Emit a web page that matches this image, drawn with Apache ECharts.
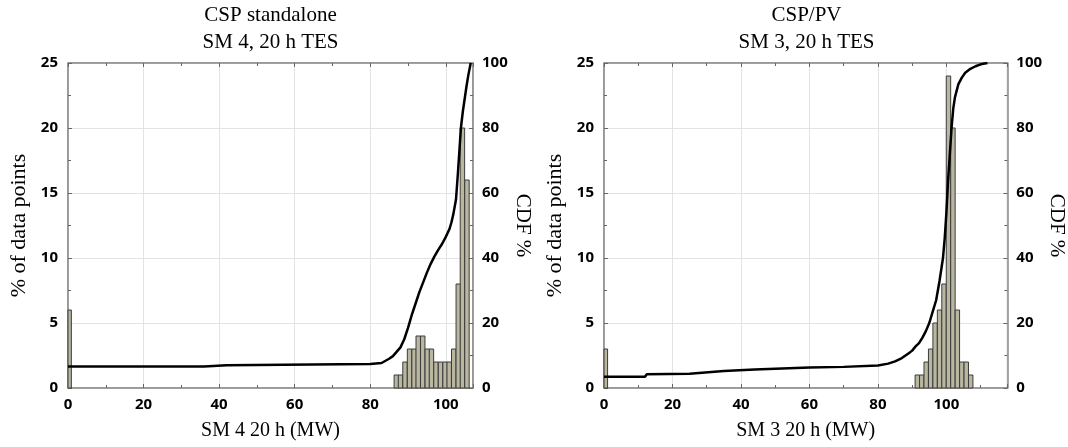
<!DOCTYPE html>
<html><head><meta charset="utf-8">
<script src="https://cdn.jsdelivr.net/npm/echarts@6/dist/echarts.min.js"></script>
<style>html,body{margin:0;padding:0;background:#fff}#c{width:1068px;height:447px}</style>
</head><body><div id="c"></div>
<script>
// ---- data ----
const leftTitle = ['CSP standalone', 'SM 4, 20 h TES'];
const rightTitle = ['CSP/PV', 'SM 3, 20 h TES'];
const leftXName = 'SM 4 20 h (MW)';
const rightXName = 'SM 3 20 h (MW)';
const yName = '% of data points';
const y2Name = 'CDF %';

const leftBinWidth = 1.17;
const leftBinCenters = [0.3, 86.9, 88.0, 89.2, 90.4, 91.6, 92.7, 93.9, 95.1, 96.2, 97.4, 98.6, 99.8, 100.9, 102.1, 103.3, 104.4, 105.6];
const leftCounts     = [6,   1,    1,    2,    3,    3,    4,    4,    3,    3,    2,    2,    2,    2,    3,     8,     20,    16];
const leftCdfX = [0, 36, 36.5, 42, 42.5, 80, 83, 85, 86, 88, 89, 90, 91, 92, 93, 94, 95, 96, 97, 98, 99, 100, 101, 101.5, 102, 102.7, 103.2, 103.6, 104, 104.5, 105, 105.5, 106, 106.6];
const leftCdfY = [6.6, 6.6, 7.0, 7.0, 7.3, 7.4, 7.7, 9, 9.8, 12.5, 15, 18.5, 22.5, 26, 29.5, 32.5, 35.5, 38.2, 40.5, 42.5, 44.3, 46.5, 49, 51, 53.5, 58, 66, 73, 80, 85, 89, 93, 96.5, 100];

const rightBinWidth = 1.29;
const rightBinCenters = [0.4, 91.5, 92.8, 94.1, 95.4, 96.7, 98.0, 99.3, 100.6, 101.9, 103.2, 104.5, 105.8, 107.1];
const rightCounts     = [3,   1,    1,    2,    3,    5,    6,    8,    24,    20,    6,     2,     2,     1];
const rightCdfX = [0, 12, 12.5, 25, 25.5, 35, 35.5, 44, 44.5, 60, 70, 80, 83, 85, 87, 89, 90, 91, 92, 93, 94, 95, 96, 97, 98, 99, 99.5, 100, 100.5, 101, 101.5, 102, 102.5, 103.5, 104.5, 105.5, 107, 108.5, 110, 112];
const rightCdfY = [3.5, 3.5, 4.2, 4.4, 5.0, 5.2, 5.6, 5.7, 6.0, 6.3, 6.5, 6.9, 7.5, 8.2, 9.2, 10.7, 11.5, 12.8, 13.8, 15.5, 17.5, 20, 23.5, 27, 33, 40, 46, 54, 64, 72, 80, 86, 89.5, 93.5, 95.5, 97, 98.2, 99, 99.6, 100];

const xTickValues = [0, 20, 40, 60, 80, 100];
const yTickValues = [0, 5, 10, 15, 20, 25];
const y2TickValues = [0, 20, 40, 60, 80, 100];

// ---- chart ----
const chart = echarts.init(document.getElementById('c'));
const FRAME = '#8a8a8a';
const labelFont = {fontFamily: 'Noto Sans', fontWeight: 'bold', fontSize: 15, color: '#000'};
const serif = 'Liberation Serif';

const grids = [
  {left: 68, right: 1068 - 473, top: 63, bottom: 447 - 388},
  {left: 604, right: 1068 - 1009, top: 63, bottom: 447 - 388}
];
const xMax = [107.2, 117.8];

function renderBar(params, api) {
  const x = api.value(0), y = api.value(1), w = api.value(2);
  const p0 = api.coord([x - w / 2, y]);
  const p1 = api.coord([x + w / 2, 0]);
  const rect = echarts.graphic.clipRectByRect(
    {x: p0[0], y: p0[1], width: p1[0] - p0[0], height: p1[1] - p0[1]},
    {x: params.coordSys.x, y: params.coordSys.y, width: params.coordSys.width, height: params.coordSys.height}
  );
  return rect && {type: 'rect', shape: rect, style: {fill: '#b9b7a0', stroke: '#3c3c3c', lineWidth: 1}};
}

const xAxes = [], yAxes = [], series = [];
[0, 1].forEach(i => {
  xAxes.push({
    type: 'value', gridIndex: i, min: 0, max: xMax[i], interval: 20,
    axisLine: {show: true, onZero: false, lineStyle: {color: FRAME, width: 1.5}},
    axisTick: {show: true, inside: true, length: 4, lineStyle: {color: '#666'}},
    minorTick: {show: true, splitNumber: 2, length: 3, lineStyle: {color: '#666'}},
    axisLabel: {...labelFont, margin: 9, showMaxLabel: false,
      formatter: v => xTickValues.includes(v) ? String(v) : ''},
    splitLine: {show: true, lineStyle: {color: '#e3e3e3', width: 1}},
    name: i === 0 ? leftXName : rightXName, nameLocation: 'middle', nameGap: 33,
    nameTextStyle: {fontFamily: serif, fontSize: 20, color: '#000'}
  });
  xAxes.push({
    type: 'value', gridIndex: i, position: 'top', min: 0, max: xMax[i], interval: 20,
    axisLine: {show: true, onZero: false, lineStyle: {color: FRAME, width: 1.5}},
    axisTick: {show: true, inside: true, length: 4, lineStyle: {color: '#666'}},
    minorTick: {show: true, splitNumber: 2, length: 3, lineStyle: {color: '#666'}},
    axisLabel: {show: false}, splitLine: {show: false}
  });
  yAxes.push({
    type: 'value', gridIndex: i, min: 0, max: 25, interval: 5, position: 'left',
    axisLine: {show: true, onZero: false, lineStyle: {color: FRAME, width: 1.5}},
    axisTick: {show: true, inside: true, length: 4, lineStyle: {color: '#666'}},
    minorTick: {show: true, splitNumber: 2, length: 3, lineStyle: {color: '#666'}},
    axisLabel: {...labelFont, margin: 10, formatter: v => yTickValues.includes(v) ? String(v) : ''},
    splitLine: {show: true, lineStyle: {color: '#e3e3e3', width: 1}},
    name: yName, nameLocation: 'middle', nameGap: 38,
    nameTextStyle: {fontFamily: serif, fontSize: 22, color: '#000'}
  });
  yAxes.push({
    type: 'value', gridIndex: i, min: 0, max: 100, interval: 20, position: 'right',
    axisLine: {show: true, onZero: false, lineStyle: {color: FRAME, width: 1.5}},
    axisTick: {show: true, inside: true, length: 4, lineStyle: {color: '#666'}},
    minorTick: {show: true, splitNumber: 2, length: 3, lineStyle: {color: '#666'}},
    axisLabel: {...labelFont, margin: 9, formatter: v => y2TickValues.includes(v) ? String(v) : ''},
    splitLine: {show: false},
    name: y2Name, nameLocation: 'middle', nameGap: 31, nameRotate: -90,
    nameTextStyle: {fontFamily: serif, fontSize: 21, color: '#000'}
  });
  const centers = i === 0 ? leftBinCenters : rightBinCenters;
  const counts = i === 0 ? leftCounts : rightCounts;
  const w = i === 0 ? leftBinWidth : rightBinWidth;
  series.push({
    type: 'custom', xAxisIndex: i * 2, yAxisIndex: i * 2, renderItem: renderBar,
    data: centers.map((c, k) => [c, counts[k], w]), silent: true, z: 2
  });
  const cx = i === 0 ? leftCdfX : rightCdfX;
  const cy = i === 0 ? leftCdfY : rightCdfY;
  series.push({
    type: 'line', xAxisIndex: i * 2, yAxisIndex: i * 2 + 1, showSymbol: false, symbol: 'none',
    data: cx.map((x, k) => [x, cy[k]]), lineStyle: {color: '#000', width: 2.5}, z: 3, silent: true
  });
});

chart.setOption({
  animation: false,
  grid: grids.map(g => ({...g, show: true, borderColor: FRAME, borderWidth: 1})),
  xAxis: xAxes,
  yAxis: yAxes,
  series: series,
  graphic: [
    {type: 'text', x: 270.5, y: 2, style: {text: leftTitle.join('\n'), textAlign: 'center', fontFamily: serif, fontSize: 21, lineHeight: 27, fill: '#000'}},
    {type: 'text', x: 806.5, y: 2, style: {text: rightTitle.join('\n'), textAlign: 'center', fontFamily: serif, fontSize: 21, lineHeight: 27, fill: '#000'}}
  ]
});
</script></body></html>
